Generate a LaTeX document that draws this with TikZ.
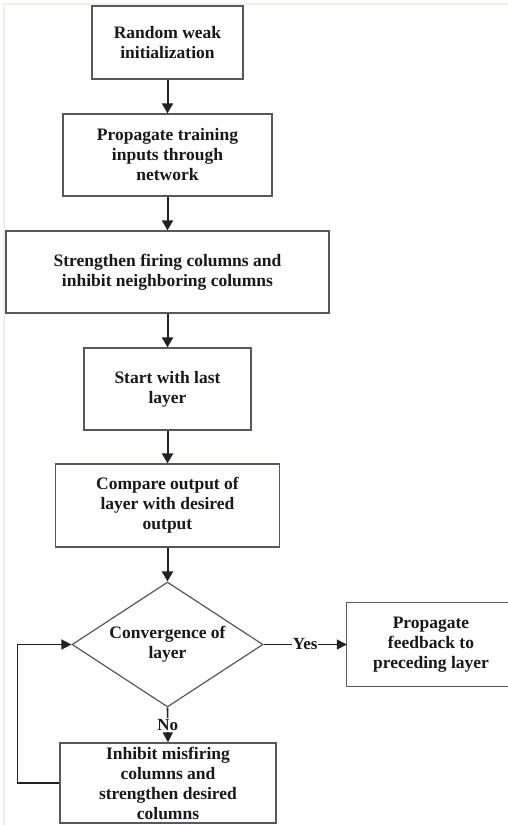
\documentclass[tikz,border=0pt]{standalone}
\usepackage{fontspec}
\setmainfont{Liberation Serif}
\usetikzlibrary{arrows.meta,shapes.geometric}
\definecolor{boxline}{HTML}{5A555E}
\definecolor{arrowc}{HTML}{222222}
\definecolor{frame}{HTML}{F1F1EA}
\tikzset{
  stepbox/.style={draw=boxline, line width=1.2pt, fill=white, align=center,
    inner sep=0pt, font=\bfseries\fontsize{17.5}{20}\selectfont, text=black!90},
  openbox/.style={align=center, inner sep=0pt,
    font=\bfseries\fontsize{17.5}{20}\selectfont, text=black!90},
  boxedge/.style={draw=boxline, line width=1.2pt},
  decision/.style={diamond, draw=boxline, line width=1.2pt, fill=white, align=center,
    inner sep=0pt, shape aspect=1.528, font=\bfseries\fontsize{17.5}{20}\selectfont, text=black!90},
  flow/.style={draw=arrowc, line width=2pt, -{Triangle[length=10pt,width=11pt]}},
  flowthin/.style={draw=arrowc, line width=1.6pt, -{Triangle[length=10pt,width=10pt]}},
  lbl/.style={fill=white, inner sep=1pt, font=\bfseries\fontsize{17}{20}\selectfont, text=black!90}
}
\begin{document}
\begin{tikzpicture}[x=1pt,y=-1pt]
\useasboundingbox (0,0) rectangle (508,825);
\fill[white] (0,0) rectangle (508,825);
\draw[frame, line width=1.5pt] (4,825) -- (4,4) -- (508,4);

\node[stepbox, minimum width=151pt, minimum height=73pt] (b1) at (167.5,42.5) {Random weak\\initialization};
\node[stepbox, minimum width=209pt, minimum height=82pt] (b2) at (167.5,155) {Propagate training\\inputs through\\network};
\node[stepbox, minimum width=323pt, minimum height=82pt] (b3) at (167.5,272) {Strengthen firing columns and\\inhibit neighboring columns};
\node[stepbox, minimum width=167pt, minimum height=82pt] (b4) at (167.5,389) {Start with last\\layer};
\node[stepbox, minimum width=224pt, minimum height=83pt] (b5) at (167.5,505.5) {Compare output of\\layer with desired\\output};
\node[decision, minimum width=191pt, minimum height=125pt] (d) at (167.5,644.5) {Convergence of\\layer};
\node[openbox, minimum width=168pt, minimum height=83pt] (b6) at (431,644.5) {Propagate\\feedback to\\preceding layer};
\draw[boxedge] ([xshift=20pt]b6.north east) -- (b6.north west) -- (b6.south west) -- ([xshift=20pt]b6.south east);
\node[stepbox, minimum width=216pt, minimum height=80pt] (b7) at (168,783) {Inhibit misfiring\\columns and\\strengthen desired\\columns};

\draw[flow] (b1.south) -- (b2.north);
\draw[flow] (b2.south) -- (b3.north);
\draw[flow] (b3.south) -- (b4.north);
\draw[flow] (b4.south) -- (b5.north);
\draw[flow] (b5.south) -- (d.north);
\draw[flowthin] (d.east) -- node[lbl] (yes) {Yes} (b6.west);
\draw[flowthin] (d.south) -- node[lbl] (no) {No} (b7.north);
\draw[flowthin] (b7.west) -- ++(-42,0) |- (d.west);
\end{tikzpicture}
\end{document}
